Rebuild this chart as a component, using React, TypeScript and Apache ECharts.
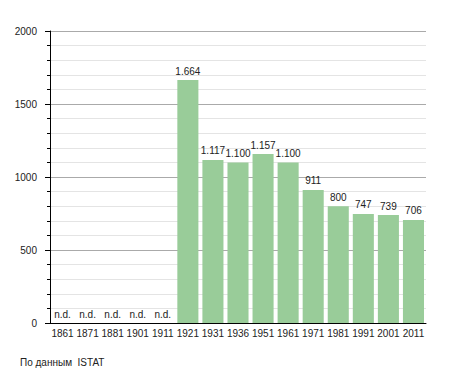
import React, { useEffect, useRef } from "react";
import * as echarts from "echarts";

const categories = ["1861", "1871", "1881", "1901", "1911", "1921", "1931", "1936", "1951", "1961", "1971", "1981", "1991", "2001", "2011"];
const values: (number | null)[] = [null, null, null, null, null, 1664, 1117, 1100, 1157, 1100, 911, 800, 747, 739, 706];
const yTicks = [0, 500, 1000, 1500, 2000];
const sourceText = "По данным  ISTAT";

const fmt = (v: number) => String(v).replace(/\B(?=(\d{3})+(?!\d))/g, ".");

export default function App() {
  const ref = useRef<HTMLDivElement>(null);
  useEffect(() => {
    if (!ref.current) return;
    const chart = echarts.init(ref.current, undefined, { renderer: "svg" });
    const font = "Liberation Sans, Arial, sans-serif";
    chart.setOption({
      animation: false,
      textStyle: { fontFamily: font },
      grid: { left: 50, top: 31, width: 376, height: 292, containLabel: false },
      xAxis: {
        type: "category",
        data: categories,
        axisLine: { lineStyle: { color: "#000", width: 1 } },
        axisTick: { show: false },
        axisLabel: { color: "#222", fontSize: 10, margin: 5, interval: 0, fontFamily: font },
      },
      yAxis: {
        type: "value",
        min: yTicks[0],
        max: yTicks[yTicks.length - 1],
        interval: 500,
        axisLine: { show: true, lineStyle: { color: "#000", width: 1 } },
        axisTick: { show: true, length: 5, lineStyle: { color: "#000" } },
        minorTick: { show: true, splitNumber: 5, length: 3, lineStyle: { color: "#000" } },
        axisLabel: { color: "#222", fontSize: 10, margin: 13, fontFamily: font, formatter: (v: number) => String(v) },
        splitLine: { show: true, lineStyle: { color: "#aaaaaa", width: 1 } },
        minorSplitLine: { show: true, lineStyle: { color: "#e4e4e4", width: 1 } },
      },
      series: [
        {
          type: "bar",
          barCategoryGap: "16%",
          itemStyle: { color: "#99cc99" },
          data: values.map((v) =>
            v === null
              ? { value: 0, label: { show: true, formatter: "n.d." } }
              : { value: v }
          ),
          label: {
            show: true,
            position: "top",
            distance: 4,
            color: "#222",
            fontSize: 10,
            fontFamily: font,
            formatter: (p: any) => fmt(p.value),
          },
        },
      ],
      graphic: [
        {
          type: "text",
          left: 20,
          top: 357,
          style: { text: sourceText, fill: "#222", fontSize: 10, fontFamily: font },
        },
      ],
    });
    return () => chart.dispose();
  }, []);
  return (
    <div
      ref={ref}
      style={{ position: "fixed", left: 0, top: 0, width: 455, height: 373, background: "#fff" }}
    />
  );
}
